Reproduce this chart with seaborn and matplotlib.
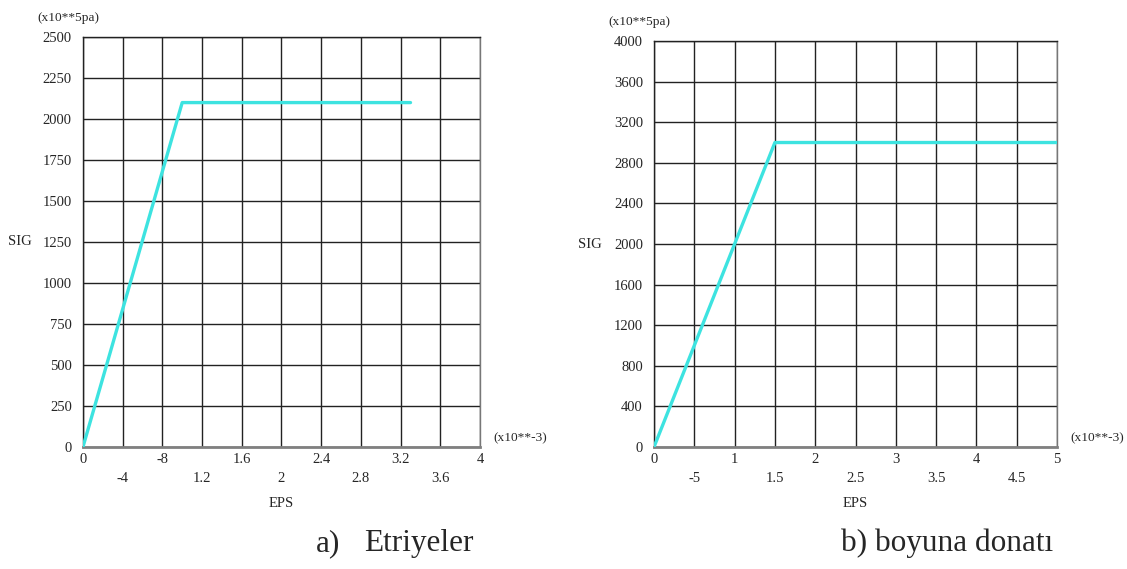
"""
Stress-strain curves for the two steel types (stirrups / longitudinal bars)
"""
import numpy as np
import pandas as pd
import matplotlib
matplotlib.use('Agg')
import matplotlib.pyplot as plt
import seaborn as sns

sns.set_style('white')
plt.rcParams['font.family'] = ['Liberation Serif', 'DejaVu Serif']

# a) Etriyeler
eps_a = [0.0, 1.0, 3.3]
sig_a = [0, 2100, 2100]
xticks_a = [0, 0.4, 0.8, 1.2, 1.6, 2.0, 2.4, 2.8, 3.2, 3.6, 4.0]
xlabels_a = ['0', '-4', '-8', '1.2', '1.6', '2', '2.4', '2.8', '3.2', '3.6', '4']
yticks_a = [0, 250, 500, 750, 1000, 1250, 1500, 1750, 2000, 2250, 2500]

# b) boyuna donati
eps_b = [0.0, 1.5, 5.0]
sig_b = [0, 3000, 3000]
xticks_b = [0, 0.5, 1.0, 1.5, 2.0, 2.5, 3.0, 3.5, 4.0, 4.5, 5.0]
xlabels_b = ['0', '-5', '1', '1.5', '2', '2.5', '3', '3.5', '4', '4.5', '5']
yticks_b = [0, 400, 800, 1200, 1600, 2000, 2400, 2800, 3200, 3600, 4000]

LINE_COLOR = '#3de3e0'
FS = 10.5
FS_UNIT = 9.6


def draw_panel(ax, eps, sig, xticks, xlabels, yticks):
    df = pd.DataFrame({'EPS': eps, 'SIG': sig})
    sns.lineplot(data=df, x='EPS', y='SIG', ax=ax, sort=False, estimator=None,
                 color=LINE_COLOR, lw=2.4, zorder=5)

    ax.set_xlim(xticks[0], xticks[-1])
    ax.set_ylim(yticks[0], yticks[-1])

    # staggered x labels: even ones on the first row, odd ones lower
    ax.set_xticks(xticks[::2])
    ax.set_xticklabels(xlabels[::2])
    ax.set_xticks(xticks[1::2], minor=True)
    ax.set_xticklabels(xlabels[1::2], minor=True)
    ax.set_yticks(yticks)
    ax.set_yticklabels([str(v) for v in yticks])

    ax.tick_params(axis='x', which='major', length=0, pad=4, labelsize=FS)
    ax.tick_params(axis='x', which='minor', length=0, pad=18, labelsize=FS)
    ax.tick_params(axis='y', length=0, pad=8, labelsize=FS)

    ax.grid(True, which='both', color='#222222', lw=1.0)
    for side in ['left', 'top', 'right']:
        ax.spines[side].set_color('#222222')
        ax.spines[side].set_linewidth(1.0)
    ax.spines['right'].set_color('#777777')
    ax.spines['bottom'].set_color('#808080')
    ax.spines['bottom'].set_linewidth(2.0)

    ax.set_ylabel('SIG', rotation=0, fontsize=FS, va='center', ha='center')
    ax.yaxis.set_label_coords(-0.159, 0.5)
    ax.set_xlabel('EPS', fontsize=FS)
    ax.xaxis.set_label_coords(0.5, -0.122)

    ax.text(-0.037, 1.046, '(x10**5pa)', transform=ax.transAxes,
            ha='center', va='center', fontsize=FS_UNIT)
    ax.text(1.033, 0.021, '(x10**-3)', transform=ax.transAxes,
            ha='left', va='center', fontsize=FS_UNIT)


fig = plt.figure(figsize=(11.27, 5.69), dpi=100)
ax1 = fig.add_axes([0.0736, 0.2144, 0.3523, 0.7206])
ax2 = fig.add_axes([0.5803, 0.2144, 0.3576, 0.7135])

draw_panel(ax1, eps_a, sig_a, xticks_a, xlabels_a, yticks_a)
draw_panel(ax2, eps_b, sig_b, xticks_b, xlabels_b, yticks_b)

fig.text(316 / 1127, 0.045, 'a)', fontsize=22.5, va='center', ha='left')
fig.text(364 / 1127, 0.045, 'Etriyeler', fontsize=22.5, va='center', ha='left')
fig.text(841 / 1127, 0.045, 'b) boyuna donatı', fontsize=22.5, va='center', ha='left')

fig.savefig('out.png', dpi=100, facecolor='white')
